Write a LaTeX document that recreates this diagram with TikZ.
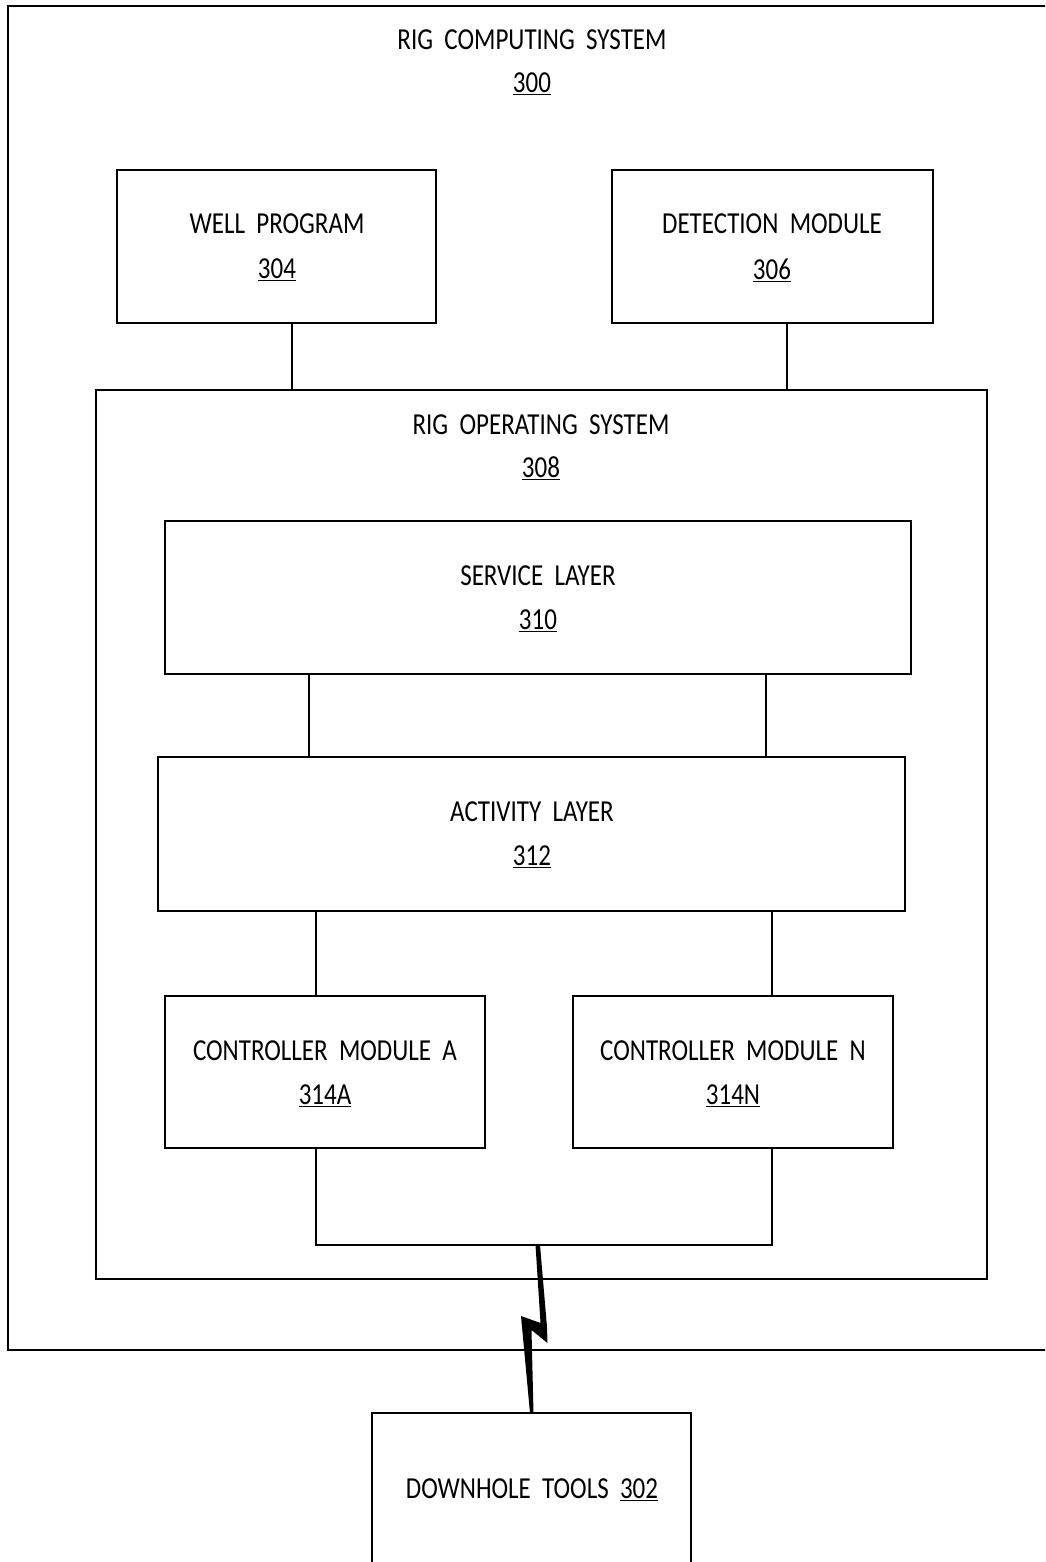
\documentclass[tikz,border=0pt]{standalone}
\usepackage{fontspec}
\setmainfont{Carlito}[FakeStretch=0.82]
\begin{document}
\begin{tikzpicture}[x=1pt,y=-1pt,
  box/.style={draw=black,line width=2.8pt,rectangle,inner sep=0pt,outer sep=0pt},
  conn/.style={draw=black,line width=2.8pt},
  lbl/.style={font=\fontsize{30.5}{36}\selectfont,inner sep=0pt,anchor=center}]
\useasboundingbox (0,0) rectangle (1045,1562);
\begin{scope}
\clip (0,0) rectangle (1045,1562);
% outer rig computing system
\node[box,minimum width=1042pt,minimum height=1344pt] (rcs) at (529,678) {};
\node[lbl] (rcst) at (532,40) {RIG\ \ COMPUTING\ \ SYSTEM};
\node[lbl] (rcsn) at (532,84) {\underline{300}};
% well program / detection module
\node[box,minimum width=319pt,minimum height=153pt] (well) at (276.5,246.5) {};
\node[lbl] (wellt) at (277,224) {WELL\ \ PROGRAM};
\node[lbl] (welln) at (277,270) {\underline{304}};
\node[box,minimum width=321pt,minimum height=153pt] (det) at (772.5,246.5) {};
\node[lbl] (dett) at (772,224) {DETECTION\ \ MODULE};
\node[lbl] (detn) at (772,270) {\underline{306}};
% rig operating system
\node[box,minimum width=891pt,minimum height=889pt] (ros) at (541.5,834.5) {};
\node[lbl] (rost) at (541,425) {RIG\ \ OPERATING\ \ SYSTEM};
\node[lbl] (rosn) at (541,468) {\underline{308}};
% service layer
\node[box,minimum width=746pt,minimum height=153pt] (svc) at (538,597.5) {};
\node[lbl] (svct) at (538,576) {SERVICE\ \ LAYER};
\node[lbl] (svcn) at (538,621) {\underline{310}};
% activity layer
\node[box,minimum width=747pt,minimum height=154pt] (act) at (531.5,834) {};
\node[lbl] (actt) at (532,812) {ACTIVITY\ \ LAYER};
\node[lbl] (actn) at (532,857) {\underline{312}};
% controller modules
\node[box,minimum width=320pt,minimum height=152pt] (cA) at (325,1072) {};
\node[lbl] (cAt) at (325,1051) {CONTROLLER\ \ MODULE\ \ A};
\node[lbl] (cAn) at (325,1096) {\underline{314A}};
\node[box,minimum width=320pt,minimum height=152pt] (cN) at (733,1072) {};
\node[lbl] (cNt) at (733,1051) {CONTROLLER\ \ MODULE\ \ N};
\node[lbl] (cNn) at (733,1096) {\underline{314N}};
% downhole tools
\node[box,minimum width=319pt,minimum height=156pt] (dt) at (531.5,1491) {};
\node[lbl] (dtt) at (532,1490) {DOWNHOLE\ \ TOOLS\ \ \underline{302}};
% connectors
\draw[conn] ([xshift=15.5pt]well.south) -- ([xshift=15.5pt]well.south |- ros.north);
\draw[conn] ([xshift=14.5pt]det.south) -- ([xshift=14.5pt]det.south |- ros.north);
\draw[conn] ([xshift=-229pt]svc.south) -- ([xshift=-229pt]svc.south |- act.north);
\draw[conn] ([xshift=228pt]svc.south) -- ([xshift=228pt]svc.south |- act.north);
\draw[conn] ([xshift=-215.5pt]act.south) -- ([xshift=-215.5pt]act.south |- cA.north);
\draw[conn] ([xshift=240.5pt]act.south) -- ([xshift=240.5pt]act.south |- cN.north);
\coordinate (bl) at (316,1245);
\coordinate (br) at (772,1245);
\coordinate (bm) at (538,1245);
\draw[conn] ([xshift=-9pt]cA.south) -- (bl) -- (br) -- ([xshift=39pt]cN.south);
% lightning bolt
\fill[black] (535.5,1245) -- (540,1245) -- (547,1327) -- (547.5,1343) -- (531.5,1330)
  -- (533.5,1413) -- (530,1413) -- (521,1316) -- (540.5,1323) -- cycle;
\end{scope}
\end{tikzpicture}
\end{document}
